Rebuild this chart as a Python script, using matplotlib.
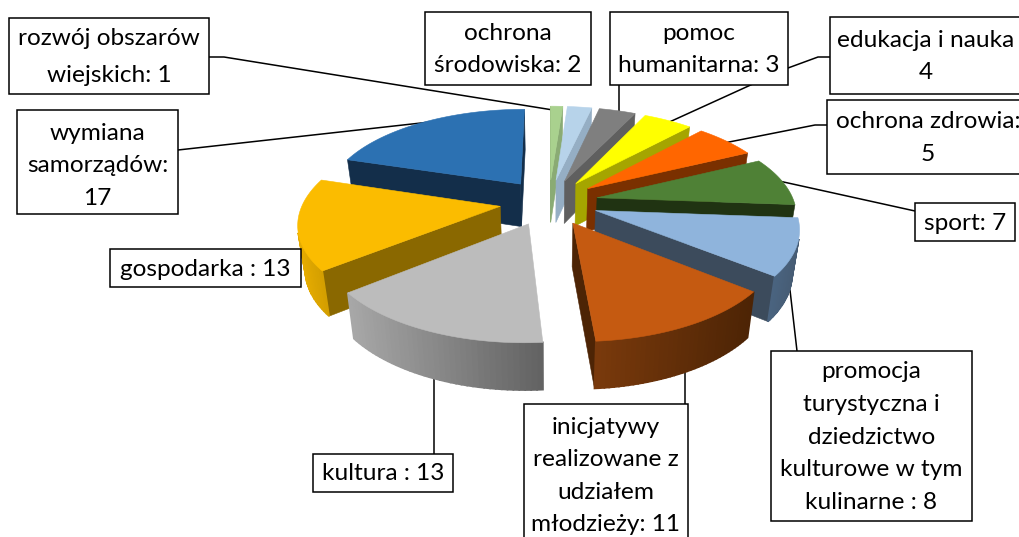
import numpy as np
import matplotlib
matplotlib.use('Agg')
from matplotlib import pyplot as plt
from matplotlib.patches import Polygon, Rectangle

values = [1, 2, 3, 4, 5, 7, 8, 11, 13, 13, 17]
names = ['rozwój obszarów\nwiejskich: 1', 'ochrona\nśrodowiska: 2', 'pomoc\nhumanitarna: 3',
         'edukacja i nauka\n4', 'ochrona zdrowia:\n5', 'sport: 7',
         'promocja\nturystyczna i\ndziedzictwo\nkulturowe w tym\nkulinarne : 8',
         'inicjatywy\nrealizowane z\nudziałem\nmłodzieży: 11', 'kultura : 13',
         'gospodarka : 13', 'wymiana\nsamorządów:\n17']
top_colors = ['#A9D18E', '#B7D3EA', '#7F7F7F', '#FFFF00', '#FF6600', '#4F8136',
              '#8FB4DC', '#C55A11', '#BCBCBC', '#FBBC00', '#2C71B2']
side_colors = ['#8AAB74', '#95AEC4', '#5F5F5F', '#A5A500', '#7A3000', '#203312',
               '#3C4B5C', '#4D2405', '#8E8E8E', '#8A6800', '#132E4A']
rim_left = ['#8AAB74', '#95AEC4', '#5F5F5F', '#A5A500', '#7A3000', '#203312',
            '#4A6480', '#7A3A0C', '#A8A8A8', '#E6AC00', '#132E4A']
rim_right = ['#8AAB74', '#95AEC4', '#5F5F5F', '#A5A500', '#7A3000', '#203312',
             '#465B73', '#4D2405', '#636363', '#D49F00', '#132E4A']

# x0, y0, x1, y1 of each label box, in pixels
boxes = [(9, 18, 209, 94), (425, 12, 591, 85), (610, 12, 788, 85), (830, 17, 1040, 94),
         (827, 100, 1040, 174), (915, 203, 1015, 241), (771, 351, 972, 521),
         (524, 404, 688, 550), (313, 454, 453, 492), (110, 249, 301, 287), (17, 110, 178, 214)]
# text centres where they are not the box centre
text_x = {3: 926, 4: 928}
text_y = {7: 476, 10: 166}
line_gap = {0: 1.95}
leaders = [[(209, 57), (224, 57), (553, 110)], [(619, 85), (619, 115)],
           [(665, 124), (788, 68), (818, 57), (830, 57)], [(724, 143), (815, 125), (827, 125)],
           [(779, 181), (915, 211)], [(790, 290), (797, 351)], [(685, 360), (685, 404)],
           [(434, 365), (434, 454)], [(178, 150), (430, 122)]]

W, H = 1020, 537
cx, cy = 549, 202
R, Q, k = 197, 92, 0.16
explode = 0.25


def to_rgb(c):
    return np.array(matplotlib.colors.to_rgb(c))


def project(ang, mid):
    # pie plane seen in perspective, slice is pushed out along its middle first
    X = explode * np.sin(mid) + np.sin(ang)
    Y = explode * np.cos(mid) + np.cos(ang)
    w = 1 + k * Y
    return np.array([cx + R * X / w, cy - Q * Y / w])


def project_apex(mid):
    X, Y = explode * np.sin(mid), explode * np.cos(mid)
    w = 1 + k * Y
    return np.array([cx + R * X / w, cy - Q * Y / w])


def drop(p):
    # lower edge of the pie, a bit deeper at the front and pulled to the middle
    return np.array([p[0] + (cx - p[0]) * 0.03, p[1] + 43 + (p[1] - 200) * 0.03])


def area(pts):
    x, y = np.array(pts).T
    return 0.5 * np.sum(x * np.roll(y, -1) - np.roll(x, -1) * y)


def face(ax, pts, color, z, lw=0.4):
    ax.add_patch(Polygon(pts, closed=True, fc=color, ec=color, lw=lw, zorder=z))


fig = plt.figure(figsize=(W / 100, H / 100), dpi=100)
ax = fig.add_axes([0, 0, 1, 1])
ax.set_xlim(0, W)
ax.set_ylim(H, 0)
ax.axis('off')
plt.rcParams['font.family'] = ['Lato', 'DejaVu Sans']

edges = np.cumsum([0] + values) / sum(values) * 2 * np.pi
# back slices first, the right side then the left side
order = [0, 1, 2, 3, 4, 5, 6, 7, 10, 9, 8]
for z, i in enumerate(order):
    a0, a1 = edges[i], edges[i + 1]
    mid = (a0 + a1) / 2
    apex = project_apex(mid)
    arc = np.linspace(a0, a1, 40)
    rim = [project(a, mid) for a in arc]
    zz = 2 + z
    # flat cut faces, only those which look at the viewer
    for p, q in [(rim[0], apex), (apex, rim[-1])]:
        quad = [p, q, drop(q), drop(p)]
        if area(quad) > 0:
            face(ax, quad, side_colors[i], zz)
    # outer rim in small pieces so it can carry the gradient
    xs = np.array([p[0] for p in rim])
    for j in range(len(rim) - 1):
        quad = [rim[j], rim[j + 1], drop(rim[j + 1]), drop(rim[j])]
        if area(quad) < 0:
            t = (rim[j][0] - xs.min()) / max(xs.max() - xs.min(), 1)
            face(ax, quad, (1 - t) * to_rgb(rim_left[i]) + t * to_rgb(rim_right[i]), zz, lw=1.2)
    face(ax, [apex] + rim, top_colors[i], zz)

# leaders go under the slices so they stop at the pie edge
for line in leaders:
    pts = np.array(line)
    ax.plot(pts[:, 0], pts[:, 1], color='black', lw=1.1, zorder=1, solid_capstyle='butt')

for i, (x0, y0, x1, y1) in enumerate(boxes):
    ax.add_patch(Rectangle((x0, y0), x1 - x0, y1 - y0, fc='white', ec='black', lw=1.1, zorder=40))
    tx = text_x.get(i, (x0 + x1) / 2)
    ty = text_y.get(i, (y0 + y1) / 2 + 1)
    ax.text(tx, ty, names[i], ha='center', va='center', fontsize=17.6, color='black',
            linespacing=line_gap.get(i, 1.68), zorder=41)

fig.savefig('out.png', dpi=100)
